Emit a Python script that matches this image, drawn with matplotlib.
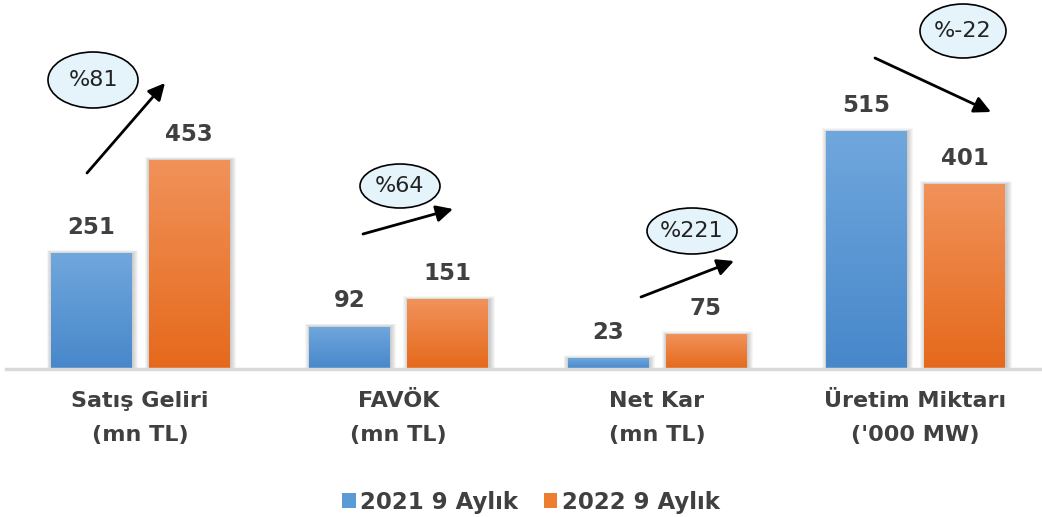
import matplotlib
matplotlib.use("Agg")
import matplotlib.pyplot as plt
import numpy as np
from matplotlib.patches import Ellipse, Rectangle, Patch
from matplotlib.colors import LinearSegmentedColormap

# ---- data ----
categories = ["Satış Geliri\n(mn TL)", "FAVÖK\n(mn TL)", "Net Kar\n(mn TL)", "Üretim Miktarı\n('000 MW)"]
series_names = ["2021 9 Aylık", "2022 9 Aylık"]
values_2021 = [251, 92, 23, 515]
values_2022 = [453, 151, 75, 401]
change_labels = ["%81", "%64", "%221", "%-22"]

# ---- style ----
W, H = 1042, 517
TXT = "#404040"
blue_top, blue_bot = "#70a7dd", "#4787ca"
orange_top, orange_bot = "#f1925a", "#e5691b"

fig = plt.figure(figsize=(W / 100, H / 100), dpi=100)
base_px = 369
ax = fig.add_axes([6 / W, (H - base_px) / H, 1 - 6 / W, base_px / H])
xmin, xmax = -0.518, 3.49
ymax = 800
ax.set_xlim(xmin, xmax)
ax.set_ylim(0, ymax)
PXX = (W - 6) / (xmax - xmin)   # pixels per x unit
PXY = base_px / ymax            # pixels per y unit

x = np.arange(len(categories))
bw = 0.31
off = 0.19


def grad_bars(xs, vals, ctop, cbot):
    cmap = LinearSegmentedColormap.from_list("g", [cbot, ctop])
    bars = ax.bar(xs, vals, bw, color="none", edgecolor="none", zorder=3)
    for b in bars:
        x0, y0 = b.get_x(), b.get_y()
        w, h = b.get_width(), b.get_height()
        # soft shadow (mostly to the right)
        for i in range(6):
            dl = (i * 0.8) / PXX
            dr = (i + 2) / PXX
            dt = (i * 0.6) / PXY
            ax.add_patch(Rectangle((x0 - dl, y0), w + dl + dr, h + dt,
                                   facecolor="black", alpha=0.035, edgecolor="none", zorder=2))
        grad = np.linspace(0, 1, 256).reshape(-1, 1)
        im = ax.imshow(grad, cmap=cmap, aspect="auto", origin="lower",
                       extent=(x0, x0 + w, y0, y0 + h), zorder=3, interpolation="bicubic")
        im.set_clip_path(b)
    return bars


b1 = grad_bars(x - off, values_2021, blue_top, blue_bot)
b2 = grad_bars(x + off, values_2022, orange_top, orange_bot)

for bars, vals in ((b1, values_2021), (b2, values_2022)):
    for b, v in zip(bars, vals):
        ax.annotate(f"{v}", (b.get_x() + b.get_width() / 2, b.get_height()),
                    xytext=(0, 14), textcoords="offset points", ha="center", va="baseline",
                    fontsize=16.5, fontweight="bold", color=TXT, zorder=5)

# axis styling
for s in ax.spines.values():
    s.set_visible(False)
ax.axhline(0, color="#d9d9d9", lw=2.5, zorder=4, clip_on=False)
ax.set_yticks([])
ax.set_xticks(x)
ax.set_xticklabels(categories, fontsize=16, fontweight="bold", color=TXT, linespacing=1.85)
ax.tick_params(axis="x", length=0, pad=16)

# ---- change annotations (pixel positions converted to data coords) ----
def px2d(px, py):
    return xmin + (px - 6) / PXX, (base_px - py) / PXY

arrows = [((87, 173), (165, 83)), ((363, 234), (453, 209)),
          ((641, 297), (734, 261)), ((875, 58), (991, 112))]
ellipses = [((93, 80), 90, 56), ((400, 186), 80, 44),
            ((692, 231), 90, 46), ((963, 31), 86, 54)]
for (s, e), (c, ew, eh), lab in zip(arrows, ellipses, change_labels):
    ax.annotate("", xy=px2d(*e), xytext=px2d(*s), xycoords="data",
                arrowprops=dict(arrowstyle="-|>,head_length=1.0,head_width=0.5", color="black",
                                lw=2, shrinkA=0, shrinkB=0), zorder=6, annotation_clip=False)
    cx, cy = px2d(*c)
    ax.add_patch(Ellipse((cx, cy), ew / PXX, eh / PXY, facecolor="#e5f3fb", edgecolor="black",
                         lw=1.2, zorder=6, clip_on=False))
    ax.text(cx, cy, lab, ha="center", va="center", fontsize=16, color="#222222", zorder=7)

# ---- legend ----
handles = [Patch(facecolor="#5b9bd5", edgecolor="none"), Patch(facecolor="#ed7d31", edgecolor="none")]
leg = fig.legend(handles, series_names, loc="center", bbox_to_anchor=(531 / W, 1 - 502 / H),
                 ncol=2, frameon=False, handlelength=0.6, handleheight=0.65, handletextpad=0.2,
                 columnspacing=1.1, prop={"size": 16.5, "weight": "bold"})
for t in leg.get_texts():
    t.set_color(TXT)

fig.savefig("out.png", dpi=100)
